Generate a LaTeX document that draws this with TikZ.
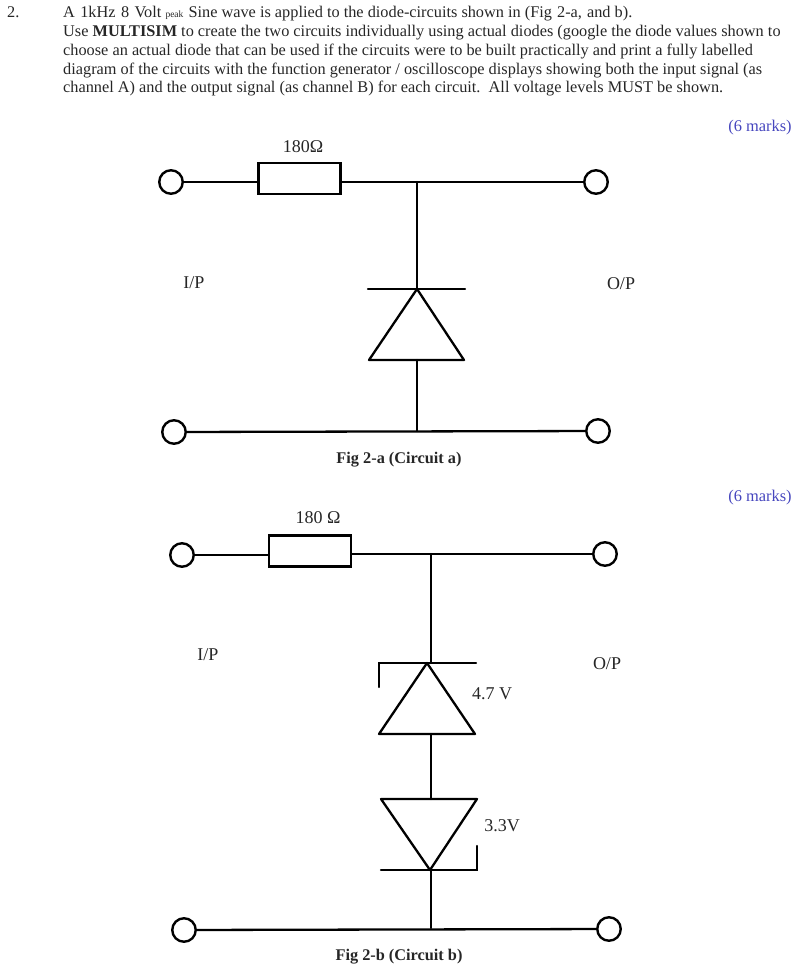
\documentclass[tikz,border=0pt]{standalone}
\usepackage{fontspec}
\setmainfont{Liberation Serif}
\definecolor{marks}{RGB}{70,70,190}
\tikzset{
  x=1pt,y=-1pt,
  wire/.style={line width=2.3pt,line cap=round,line join=miter},
  term/.style={circle,draw,line width=2.4pt,fill=white,minimum size=23.5pt,inner sep=0pt},
  res/.style={rectangle,draw,line width=2.4pt,fill=white,minimum width=82pt,minimum height=31pt,inner sep=0pt},
  body/.style={anchor=base west,inner sep=0pt,font=\fontsize{16.3}{19}\selectfont,text=black!85},
  lab/.style={inner sep=0pt,font=\fontsize{18}{20}\selectfont,text=black!85},
  figlab/.style={inner sep=0pt,font=\fontsize{16.3}{19}\selectfont\bfseries,text=black!85},
  mk/.style={inner sep=0pt,font=\fontsize{16.4}{19}\selectfont,text=marks},
}
\begin{document}
\begin{tikzpicture}
\useasboundingbox (0,0) rectangle (797,970);
\node[body] (num) at (7,17.5) {2.};
\node[body] (l1) at (63,17.5) {A\kern1.3pt{} 1kHz\kern1.3pt{} 8\kern1.3pt{} Volt {\fontsize{9.5}{10}\selectfont peak}\kern1pt{} Sine wave is applied to the diode-circuits shown in (Fig\kern1pt{} 2-a,\kern1pt{} and b).};
\node[body] (l2) at (63,36.5) {Use \textbf{MULTISIM} to create the two circuits individually using actual diodes (google the diode values shown to};
\node[body] (l3) at (63,55) {choose an actual diode that can be used if the circuits were to be built practically and print a fully labelled};
\node[body] (l4) at (63,74) {diagram of the circuits with the function generator / oscilloscope displays showing both the input signal (as};
\node[body] (l5) at (63,92.7) {channel A) and the output signal (as channel B) for each circuit.\ \ All voltage levels MUST be shown.};
\node[mk] (m1) at (760,128) {(6 marks)};
\node[mk] (m2) at (760,498) {(6 marks)};

% Circuit a
\node[term] (a1) at (171,182) {};
\node[term] (a2) at (596,182) {};
\node[term] (a3) at (174,432) {};
\node[term] (a4) at (598,431) {};
\node[res] (ra) at (299.5,178.5) {};
\coordinate (ja) at (417,182);
\coordinate (ka) at (417,289);
\coordinate (ba) at (417,360);
\coordinate (ga) at (417,431);
\draw[wire] (a1) -- (ra.west |- a1);
\draw[wire] (ra.east |- a2) -- (a2);
\draw[wire] (a3) -- (a4);
\draw[wire] (ja) -- (ka);
\draw[wire] (ba) -- (ga);
\draw[wire] (368,289) -- (465,289);
\draw[wire,line join=round] (ka) -- (464,360) -- (369,360) -- cycle;
\node[lab] (ra1) at (303,147) {180Ω};
\node[lab] (ip1) at (194,283) {I/P};
\node[lab] (op1) at (621,284) {O/P};
\node[figlab] (fa) at (399,460) {Fig 2-a (Circuit a)};

% Circuit b
\node[term] (b1) at (182,555) {};
\node[term] (b2) at (605,554) {};
\node[term] (b3) at (184,930) {};
\node[term] (b4) at (609,929) {};
\node[res] (rb) at (310,551) {};
\coordinate (jb) at (431,554);
\coordinate (k1) at (431,663);
\coordinate (a1b) at (431,734);
\coordinate (a2b) at (431,799);
\coordinate (k2) at (431,870);
\coordinate (gb) at (431,928);
\draw[wire] (b1) -- (rb.west |- b1);
\draw[wire] (rb.east |- b2) -- (b2);
\draw[wire] (b3) -- (b4);
\draw[wire] (jb) -- (k1);
\draw[wire] (a1b) -- (a2b);
\draw[wire] (k2) -- (gb);
\draw[wire] (379,687) -- (379,663) -- (476,663);
\draw[wire,line join=round] (427,663) -- (475,734) -- (379,734) -- cycle;
\draw[wire,line join=round] (430,870) -- (477,799) -- (381,799) -- cycle;
\draw[wire] (381,870) -- (477,870) -- (477,846);
\node[lab] (rb1) at (318,518) {180 Ω};
\node[lab] (ip2) at (208,655) {I/P};
\node[lab] (op2) at (607,664) {O/P};
\node[lab] (z1) at (492,694) {4.7 V};
\node[lab] (z2) at (502,826) {3.3V};
\node[figlab] (fb) at (399,957) {Fig 2-b (Circuit b)};
\end{tikzpicture}
\end{document}
